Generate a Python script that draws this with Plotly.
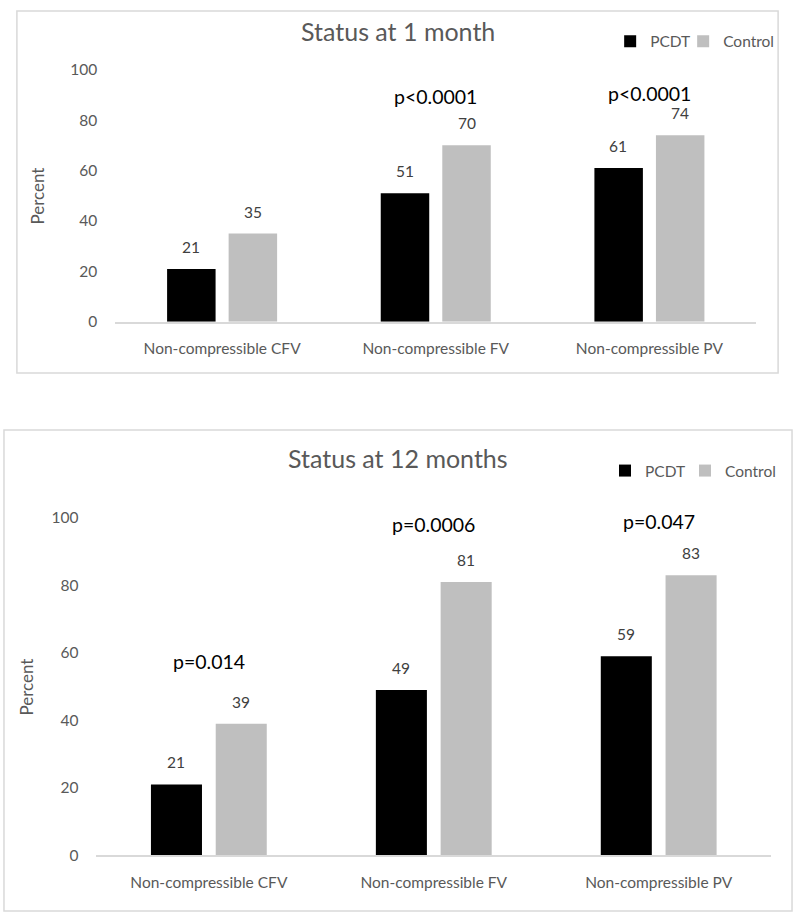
import plotly.graph_objects as go

categories = ["Non-compressible CFV", "Non-compressible FV", "Non-compressible PV"]
series_names = ["PCDT", "Control"]
m1_pcdt = [21, 51, 61]
m1_control = [35, 70, 74]
m12_pcdt = [21, 49, 59]
m12_control = [39, 81, 83]
m1_pvals = ["", "p<0.0001", "p<0.0001"]
m1_pval_y = [None, 89.5, 90.5]
m12_pvals = ["p=0.014", "p=0.0006", "p=0.047"]
m12_pval_y = [57.5, 98, 99]
y_ticks = [0, 20, 40, 60, 80, 100]
titles = ["Status at 1 month", "Status at 12 months"]

W, H = 800, 920
FONT = "Lato"
GRAY_TXT = "#595959"
colors = ["#000000", "#bfbfbf"]
BARGAP = 0.424
GROUPGAP = 0.212

# layout positions are given in screen pixels; the page is photographed with a
# slight vertical squeeze (y_screen ~= 10.4 + 0.9796 * y_page), compensated here
def px(x):
    return x / W

def py(y):
    yp = (y - 10.4) / 0.9796
    yp = min(max(yp, 1.0), H - 1.0)
    return 1 - yp / H

fig = go.Figure()

panels = [
    dict(pc=m1_pcdt, ct=m1_control, pv=m1_pvals, pvy=m1_pval_y, xa="x", ya="y",
         xdom=[px(116), px(761)], ydom=[py(322), py(70)], legend="legend",
         box=(17, 4, 783, 373), title_y=31, legend_y=42, legend_x=614, entry_w=28,
         ylab_x=38),
    dict(pc=m12_pcdt, ct=m12_control, pv=m12_pvals, pvy=m12_pval_y, xa="x2", ya="y2",
         xdom=[px(97), px(776)], ydom=[py(855), py(518)], legend="legend2",
         box=(4, 430, 797, 918), title_y=458, legend_y=471, legend_x=609, entry_w=35,
         ylab_x=27),
]

annotations = []
shapes = []
for i, p in enumerate(panels):
    for name, vals, col, lw in zip(series_names, [p["pc"], p["ct"]], colors, [p["entry_w"], 70]):
        fig.add_trace(go.Bar(x=categories, y=vals, name=name, marker_color=col,
                             marker_line_width=0, xaxis=p["xa"], yaxis=p["ya"],
                             legend=p["legend"], legendwidth=lw, hoverinfo="skip"))
    dom_w = (p["xdom"][1] - p["xdom"][0]) * W
    cat_w = dom_w / len(categories)
    slot = cat_w * (1 - BARGAP) / 2
    for j, cat in enumerate(categories):
        for k, vals in enumerate([p["pc"], p["ct"]]):
            annotations.append(dict(x=cat, y=vals[j], xref=p["xa"], yref=p["ya"],
                                    text=str(vals[j]), showarrow=False,
                                    xshift=(k - 0.5) * slot, yshift=11,
                                    xanchor="center", yanchor="bottom",
                                    font=dict(family=FONT, size=15.5, color="#404040")))
        if p["pv"][j]:
            annotations.append(dict(x=cat, y=p["pvy"][j], xref=p["xa"], yref=p["ya"],
                                    text=p["pv"][j], showarrow=False,
                                    xanchor="center", yanchor="middle",
                                    font=dict(family=FONT, size=19.5, color="#000000")))
    x0, y0, x1, y1 = p["box"]
    shapes.append(dict(type="rect", xref="paper", yref="paper", x0=px(x0), x1=px(x1),
                       y0=py(y1), y1=py(y0), line=dict(color="#d9d9d9", width=1.5)))
    annotations.append(dict(x=px((x0 + x1) / 2), y=py(p["title_y"]), xref="paper", yref="paper",
                            text=titles[i], showarrow=False, xanchor="center", yanchor="middle",
                            font=dict(family=FONT, size=25, color=GRAY_TXT)))
    annotations.append(dict(x=px(p["ylab_x"]), y=(p["ydom"][0] + p["ydom"][1]) / 2,
                            xref="paper", yref="paper", text="Percent", textangle=-90,
                            xanchor="center", yanchor="middle",
                            showarrow=False, font=dict(family=FONT, size=17, color=GRAY_TXT)))

axis_common_x = dict(showline=True, linecolor="#d9d9d9", linewidth=1.5, showgrid=False,
                     zeroline=False, ticks="", tickfont=dict(family=FONT, size=15.5, color=GRAY_TXT),
                     ticklabelstandoff=12, fixedrange=True)
axis_common_y = dict(range=[0, 100], tickvals=y_ticks, showline=False, showgrid=False,
                     zeroline=False, ticks="", tickfont=dict(family=FONT, size=15.5, color=GRAY_TXT),
                     ticklabelstandoff=17, fixedrange=True)

legend_common = dict(orientation="h", xanchor="left", yanchor="middle",
                     font=dict(family=FONT, size=15.5, color=GRAY_TXT),
                     bgcolor="rgba(0,0,0,0)", itemclick=False, itemdoubleclick=False,
                     traceorder="normal", entrywidthmode="pixels")

fig.update_layout(
    width=W, height=H, margin=dict(l=0, r=0, t=0, b=0),
    paper_bgcolor="white", plot_bgcolor="white",
    barmode="group", bargap=BARGAP, bargroupgap=GROUPGAP,
    xaxis=dict(domain=panels[0]["xdom"], anchor="y", **axis_common_x),
    yaxis=dict(domain=panels[0]["ydom"], anchor="x", **axis_common_y),
    xaxis2=dict(domain=panels[1]["xdom"], anchor="y2", **axis_common_x),
    yaxis2=dict(domain=panels[1]["ydom"], anchor="x2", **axis_common_y),
    legend=dict(x=px(panels[0]["legend_x"]), y=py(panels[0]["legend_y"]), **legend_common),
    legend2=dict(x=px(panels[1]["legend_x"]), y=py(panels[1]["legend_y"]), **legend_common),
    annotations=annotations, shapes=shapes,
    font=dict(family=FONT),
)

post = (
    "var s=document.createElement('style');"
    "s.textContent='html,body{margin:0;padding:0;overflow:hidden;background:#ffffff;}';"
    "document.head.appendChild(s);"
)
fig.write_html("out.html", config={"displayModeBar": False}, post_script=post)
